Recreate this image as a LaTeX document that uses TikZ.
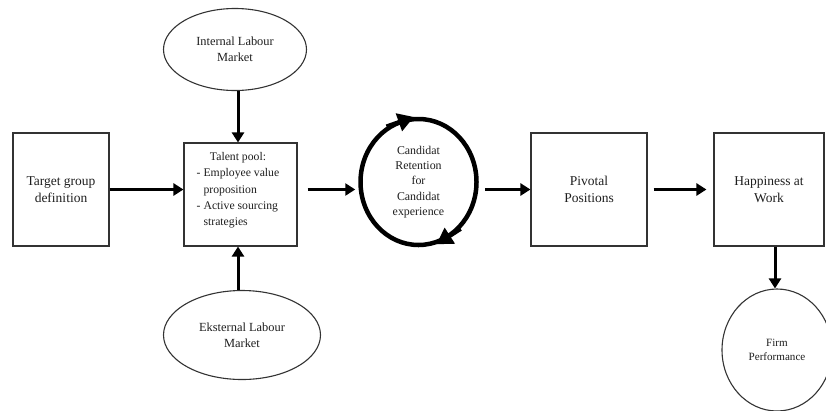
\documentclass[tikz,border=0pt]{standalone}
\usepackage{fontspec}
\setmainfont{Liberation Serif}
\usetikzlibrary{arrows.meta,shapes.geometric}
\definecolor{ink}{HTML}{1E1E1E}
\definecolor{edge}{HTML}{333333}
\tikzset{
  box/.style={draw=edge, line width=1.1pt, rectangle, inner sep=0pt, align=center, text=ink},
  oval/.style={draw=edge, line width=1.1pt, ellipse, inner sep=0pt, align=center, text=ink},
  arr/.style={line width=3pt, -{Triangle[length=10pt,width=12pt]}},
  cycarr/.style={line width=4.5pt, -{Triangle[length=16pt,width=18pt]}},
  big/.style={font=\fontsize{13.5}{17.5}\selectfont},
  mid/.style={font=\fontsize{12.4}{16}\selectfont},
}
\begin{document}
\begin{tikzpicture}[x=1pt,y=-1pt]
\useasboundingbox (0,0) rectangle (826,410);
% nodes
\node[box, big, minimum width=96pt, minimum height=113pt] (tg) at (61,189.5) {Target group\\definition};
\node[box, minimum width=113pt, minimum height=103pt] (tp) at (240.5,194.5) {};
\node[text=ink, inner sep=0pt, anchor=center] (tpt) at (238,190)
  {\fontsize{11.7}{16.3}\selectfont\begin{tabular}{@{}l@{}}\multicolumn{1}{c}{Talent pool:}\\- Employee value\\\phantom{- }proposition\\- Active sourcing\\\phantom{- }strategies\end{tabular}};
\node[oval, mid, minimum width=143pt, minimum height=82pt] (il) at (235,49.5) {Internal Labour\\Market};
\node[oval, mid, minimum width=157pt, minimum height=89pt] (el) at (242,335) {Eksternal Labour\\Market};
\node[ellipse, draw=black, line width=4.5pt, inner sep=0pt, minimum width=116pt, minimum height=126pt, align=center, text=ink,
  font=\fontsize{11.9}{15.3}\selectfont] (cyc) at (418.5,182) {Candidat\\Retention\\for\\Candidat\\experience};
\node[box, big, minimum width=116pt, minimum height=113pt] (pp) at (589,189.5) {Pivotal\\Positions};
\node[box, big, minimum width=110pt, minimum height=113pt] (hw) at (769,189.5) {Happiness at\\Work};
\node[oval, minimum width=110pt, minimum height=122pt, font=\fontsize{11.1}{13.3}\selectfont] (fp) at (777,350) {Firm\\Performance};
% helper coordinates
\coordinate (vx) at (238,0);
\coordinate (fx) at (775,0);
% connectors
\draw[arr] (tg.east) -- (tg.east -| tp.west);
\draw[arr, shorten <=10pt, shorten >=3pt] (tg.east -| tp.east) -- (tg.east -| cyc.west);
\draw[arr, shorten <=6.5pt] (tg.east -| cyc.east) -- (tg.east -| pp.west);
\draw[arr, shorten <=6pt, shorten >=7pt] (tg.east -| pp.east) -- (tg.east -| hw.west);
\draw[arr] (il.south -| vx) -- (tp.north -| vx);
\draw[arr] (el.north -| vx) -- (tp.south -| vx);
\draw[arr] (hw.south -| fx) -- (fp.north -| fx);
% cycle arrowheads
\draw[cycarr] (cyc.120) -- (cyc.94);
\draw[cycarr] (cyc.312) -- (cyc.286);
\end{tikzpicture}
\end{document}
